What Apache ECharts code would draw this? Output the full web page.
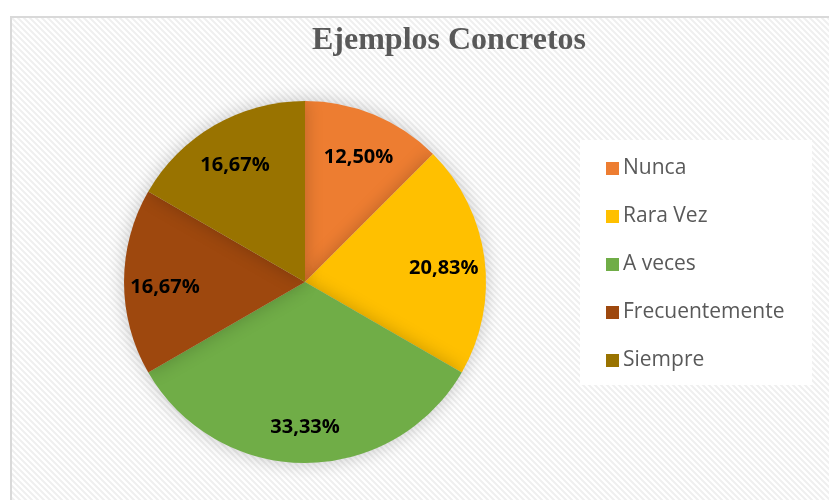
<!DOCTYPE html>
<html>
<head>
<meta charset="utf-8">
<script src="https://cdn.jsdelivr.net/npm/echarts@6/dist/echarts.min.js"></script>
<style>
  html, body { margin: 0; padding: 0; background: #fff; }
  #chart { width: 829px; height: 500px; }
</style>
</head>
<body>
<div id="chart"></div>
<script>
const categories = ['Nunca', 'Rara Vez', 'A veces', 'Frecuentemente', 'Siempre']
const percentages = [12.50, 20.83, 33.33, 16.67, 16.67]
const colors = ['#ED7D31', '#FFC000', '#70AD47', '#9E480E', '#997300']

// diagonal hatch used as the chart area fill
const hatch = (() => {
  const c = document.createElement('canvas')
  c.width = 6
  c.height = 6
  const ctx = c.getContext('2d')
  ctx.fillStyle = '#ffffff'
  ctx.fillRect(0, 0, 6, 6)
  ctx.strokeStyle = '#efefef'
  ctx.lineWidth = 2
  ctx.beginPath()
  ctx.moveTo(-1, -1); ctx.lineTo(7, 7)
  ctx.moveTo(-4, 2); ctx.lineTo(4, 10)
  ctx.moveTo(2, -4); ctx.lineTo(10, 4)
  ctx.stroke()
  return c
})()

const pieData = categories.map((name, i) => ({
  value: percentages[i],
  name: name,
  itemStyle: { color: colors[i] }
}))

const fmt = p => p.value.toFixed(2).replace('.', ',') + '%'

const chart = echarts.init(document.getElementById('chart'))

const option = {
  backgroundColor: '#fff',
  animation: false,
  graphic: [
    {
      type: 'rect',
      z: -10,
      shape: { x: 11, y: 17, width: 830, height: 500 },
      style: { fill: { image: hatch, repeat: 'repeat' }, stroke: '#d9d9d9', lineWidth: 2 }
    },
    {
      type: 'rect',
      z: -5,
      shape: { x: 580, y: 140, width: 232, height: 245 },
      style: { fill: '#ffffff' }
    }
  ],
  title: {
    text: 'Ejemplos Concretos',
    left: 307,
    top: 20,
    textStyle: {
      fontFamily: 'Liberation Serif',
      fontWeight: 'bold',
      fontSize: 32,
      color: '#595959'
    }
  },
  legend: {
    orient: 'vertical',
    left: 601,
    top: 153,
    icon: 'rect',
    itemWidth: 13,
    itemHeight: 13,
    itemGap: 27,
    data: categories,
    textStyle: {
      fontFamily: 'Open Sans',
      fontSize: 21,
      color: '#595959',
      padding: [0, 0, 0, -1]
    }
  },
  series: [
    {
      type: 'pie',
      center: [305, 282],
      radius: [0, 181],
      startAngle: 90,
      data: pieData,
      label: { show: false },
      labelLine: { show: false },
      itemStyle: {
        shadowBlur: 18,
        shadowColor: 'rgba(0,0,0,0.22)'
      },
      emphasis: { disabled: true }
    },
    {
      // invisible ring used only to place the labels further out
      type: 'pie',
      center: [305, 287],
      radius: [0, 274],
      startAngle: 90,
      silent: true,
      data: pieData.map(d => ({ value: d.value, name: d.name })),
      itemStyle: { color: 'rgba(0,0,0,0)' },
      label: {
        show: true,
        position: 'inside',
        formatter: fmt,
        fontFamily: 'Open Sans',
        fontWeight: 'bold',
        fontSize: 20,
        color: '#000'
      },
      labelLine: { show: false },
      emphasis: { disabled: true }
    }
  ]
}

chart.setOption(option)
</script>
</body>
</html>
